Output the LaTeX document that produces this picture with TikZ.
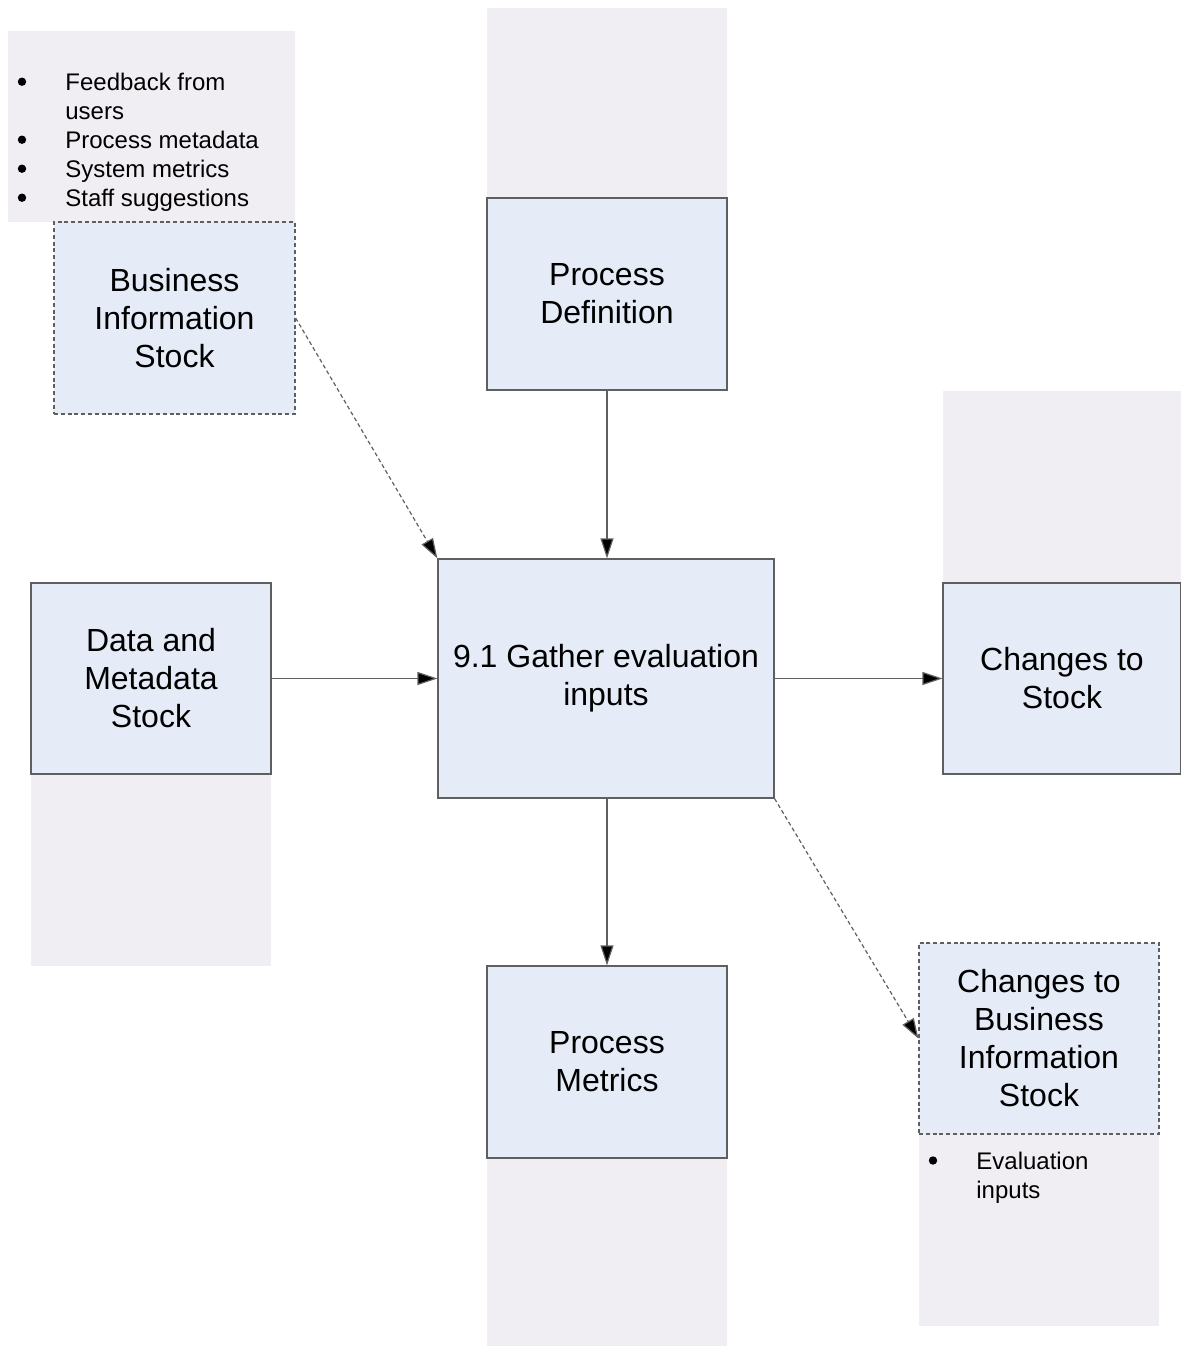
\documentclass[tikz,border=0pt]{standalone}
\usepackage{fontspec}
\setmainfont{Liberation Sans}
\usetikzlibrary{arrows.meta}
\definecolor{boxfill}{HTML}{E5ECF7}
\definecolor{notefill}{HTML}{F0EEF3}
\definecolor{edgegray}{HTML}{5F5F5F}
\tikzset{
  stockbox/.style={draw=edgegray, line width=0.6pt, fill=boxfill, inner sep=0pt,
    align=center, font=\fontsize{16}{19}\selectfont},
  dashbox/.style={stockbox, dash pattern=on 2pt off 1.4pt},
  note/.style={fill=notefill, draw=none},
  bullets/.style={inner sep=0pt, anchor=north west, align=left, font=\fontsize{12}{14.5}\selectfont},
  bulletdot/.style={fill=black},
  flow/.style={draw=edgegray, line width=0.6pt, -{Triangle[length=10pt,width=6.5pt,fill=black]}},
  dflow/.style={flow, dash pattern=on 2pt off 1.4pt},
}
\begin{document}
\begin{tikzpicture}[x=0.5pt,y=-0.5pt]
\useasboundingbox (0,0) rectangle (1181,1346);
% background note areas
\fill[note] (8,31) rectangle (295,222);
\fill[note] (487,8) rectangle (727,198);
\fill[note] (31,774) rectangle (271,966);
\fill[note] (943,391) rectangle (1181,583);
\fill[note] (487,1158) rectangle (727,1346);
\fill[note] (919,1134) rectangle (1159,1326);
% boxes
\node[dashbox, minimum width=120.5pt, minimum height=96pt] (bis) at (174.5,318) {Business\\Information\\Stock};
\node[stockbox, minimum width=120pt, minimum height=96pt] (pd) at (607,294) {Process\\Definition};
\node[stockbox, minimum width=120pt, minimum height=95.5pt] (dms) at (151,678.5) {Data and\\Metadata\\Stock};
\node[stockbox, minimum width=168pt, minimum height=119.5pt] (gei) at (606,678.5) {9.1 Gather evaluation\\inputs};
\node[stockbox, minimum width=119pt, minimum height=95.5pt] (cts) at (1062,678.5) {Changes to\\Stock};
\node[stockbox, minimum width=120pt, minimum height=96pt] (pm) at (607,1062) {Process\\Metrics};
\node[dashbox, minimum width=120pt, minimum height=95.5pt] (cbis) at (1039,1038.5) {Changes to\\Business\\Information\\Stock};
% bullet lists
\node[bullets] (list1) at (65,72.3) {Feedback from\\users\\Process metadata\\System metrics\\Staff suggestions};
\foreach \yy in {81.7,139.7,168.7,197.7} \fill[bulletdot] (22,\yy) circle (2.1pt);
\node[bullets] (list2) at (976,1151.3) {Evaluation\\inputs};
\fill[bulletdot] (933,1160.5) circle (2.1pt);
% connectors
\draw[dflow] (bis.east) -- (gei.north west);
\draw[flow] (pd.south) -- (gei.north -| pd.south);
\draw[flow] (dms.east) -- (gei.west |- dms.east);
\draw[flow] (gei.east) -- (cts.west);
\draw[flow] (gei.south -| pm.north) -- (pm.north);
\draw[dflow] (gei.south east) -- (cbis.west);
\end{tikzpicture}
\end{document}
